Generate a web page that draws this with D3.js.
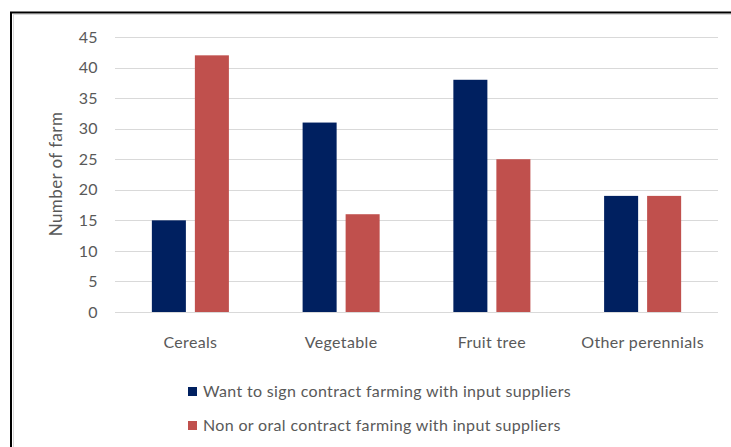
<!DOCTYPE html>
<html>
<head>
<meta charset="utf-8">
<script src="https://cdn.jsdelivr.net/npm/d3@7/dist/d3.min.js"></script>
<style>
html,body{margin:0;padding:0;background:#fff;}
svg{display:block;}
text{font-family:Lato, "Open Sans", sans-serif;fill:#595959;}
</style>
</head>
<body>
<svg id="chart" width="731" height="447"></svg>
<script>
const categories = ["Cereals", "Vegetable", "Fruit tree", "Other perennials"];
const seriesNames = ["Want to sign contract farming with input suppliers", "Non or oral contract farming with input suppliers"];
const wantValues = [15, 31, 38, 19];
const nonValues = [42, 16, 25, 19];
const yTicks = [0, 5, 10, 15, 20, 25, 30, 35, 40, 45];
const colors = ["#002060", "#C0504D"];
const yTitle = "Number of farm";

(function () {
const svg = d3.select("#chart");
// frame
svg.append("rect").attr("x", 0).attr("y", 0).attr("width", 731).attr("height", 447).attr("fill", "#fff");
svg.append("line").attr("x1", 10).attr("x2", 731).attr("y1", 12.5).attr("y2", 12.5).attr("stroke", "#000").attr("stroke-width", 2);
svg.append("line").attr("x1", 11).attr("x2", 11).attr("y1", 12).attr("y2", 447).attr("stroke", "#000").attr("stroke-width", 2);
svg.append("line").attr("x1", 13).attr("x2", 731).attr("y1", 14.5).attr("y2", 14.5).attr("stroke", "#d9d9d9").attr("stroke-width", 1);
svg.append("line").attr("x1", 13.5).attr("x2", 13.5).attr("y1", 15).attr("y2", 447).attr("stroke", "#d9d9d9").attr("stroke-width", 1);

const pLeft = 115, pRight = 718, pTop = 37, pBottom = 312;
const x0 = d3.scaleBand().domain(categories).range([pLeft, pRight]).paddingInner(0).paddingOuter(0);
const x1 = d3.scaleBand().domain([0, 1]).range([0, x0.bandwidth()]).paddingInner(0.209).paddingOuter(0.857);
const y = d3.scaleLinear().domain([0, 45]).range([pBottom, pTop]);

// gridlines
const grid = svg.append("g");
grid.selectAll("line").data(yTicks).join("line")
  .attr("x1", pLeft).attr("x2", pRight)
  .attr("y1", d => Math.round(y(d)) + 0.5).attr("y2", d => Math.round(y(d)) + 0.5)
  .attr("stroke", "#d9d9d9").attr("stroke-width", 1);

// y axis labels
const yAxis = d3.axisLeft(y).tickValues(yTicks).tickSize(0).tickPadding(0);
const ya = svg.append("g").attr("transform", `translate(98,0)`).call(yAxis);
ya.select(".domain").remove();
ya.selectAll("text").style("font-size", "16px").style("letter-spacing", "0.4px").attr("fill", "#595959").style("font-family", "Lato, sans-serif");

// bars
const data = categories.map((c, i) => ({cat: c, vals: [wantValues[i], nonValues[i]]}));
const groups = svg.append("g").selectAll("g").data(data).join("g")
  .attr("transform", d => `translate(${x0(d.cat)},0)`);
groups.selectAll("rect").data(d => d.vals.map((v, k) => ({v, k}))).join("rect")
  .attr("x", d => x1(d.k)).attr("width", x1.bandwidth())
  .attr("y", d => y(d.v)).attr("height", d => y(0) - y(d.v))
  .attr("fill", d => colors[d.k]);

// x axis labels
const xAxis = d3.axisBottom(x0).tickSize(0).tickPadding(0);
const xa = svg.append("g").attr("transform", `translate(0,${pBottom})`).call(xAxis);
xa.select(".domain").remove();
xa.selectAll("text").attr("dy", "0").attr("y", 36).style("font-size", "16px").style("letter-spacing", "0.34px").attr("fill", "#595959").style("font-family", "Lato, sans-serif");

// y title
svg.append("text").attr("transform", "translate(62,174) rotate(-90)")
  .attr("text-anchor", "middle").style("font-size", "17px").style("letter-spacing", "0.4px").text(yTitle);

// legend
const leg = svg.append("g");
seriesNames.forEach((s, i) => {
  const cy = 391 + i * 34;
  leg.append("rect").attr("x", 188).attr("y", cy - 4).attr("width", 9).attr("height", 9).attr("fill", colors[i]);
  leg.append("text").attr("x", 203).attr("y", cy + 5.5).style("font-size", "16px").style("letter-spacing", "0.34px").text(s);
});
})();
</script>
</body>
</html>
